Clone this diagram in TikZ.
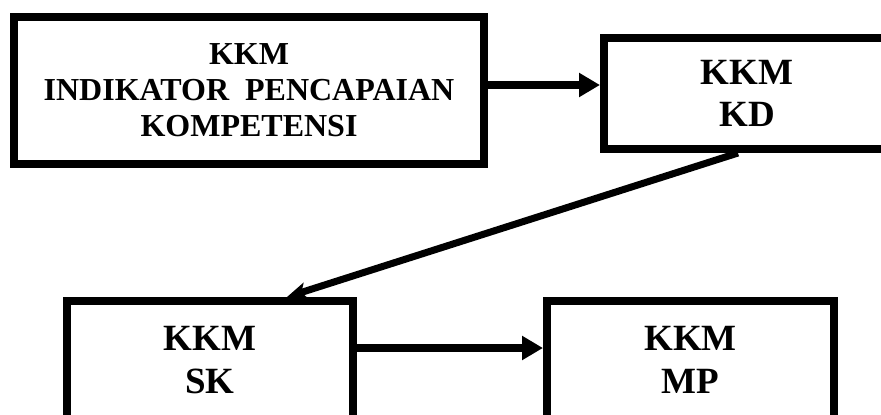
\documentclass[tikz,border=0pt]{standalone}
\usepackage{fontspec}
\setmainfont{Liberation Serif}
\usetikzlibrary{arrows.meta}
\begin{document}
\begin{tikzpicture}[x=1pt,y=-1pt,
  box/.style={draw, line width=8pt, inner sep=0pt, align=center},
  bigtxt/.style={font=\bfseries\fontsize{32}{36}\selectfont},
  smalltxt/.style={font=\bfseries\fontsize{37}{42.5}\selectfont},
  arr/.style={line width=7.5pt, -{Triangle[length=21pt,width=23pt]}},
  darr/.style={line width=7pt, -{Stealth[length=20pt,width=17pt,inset=5pt]}}]
\useasboundingbox (0,0) rectangle (881,415);
\clip (0,0) rectangle (881,415);
\node[box, bigtxt, minimum width=470pt, minimum height=147pt] (ipk) at (249,90.5)
  {KKM\\INDIKATOR\ \ PENCAPAIAN\\KOMPETENSI};
\node[box, smalltxt, minimum width=286pt, minimum height=111pt] (kd) at (747,93.5)
  {KKM\\KD};
\node[box, smalltxt, minimum width=286pt, minimum height=118pt] (sk) at (210,360)
  {KKM\\SK};
\node[box, smalltxt, minimum width=287pt, minimum height=118pt] (mp) at (690.5,360)
  {KKM\\MP};
\draw[arr] ([yshift=5.5pt]ipk.east) -- ([yshift=8.5pt]kd.west);
\draw[darr] ([xshift=-9pt]kd.south) -- ([xshift=77pt]sk.north);
\draw[arr] ([yshift=12pt]sk.east) -- ([yshift=12pt]mp.west);
\end{tikzpicture}
\end{document}
